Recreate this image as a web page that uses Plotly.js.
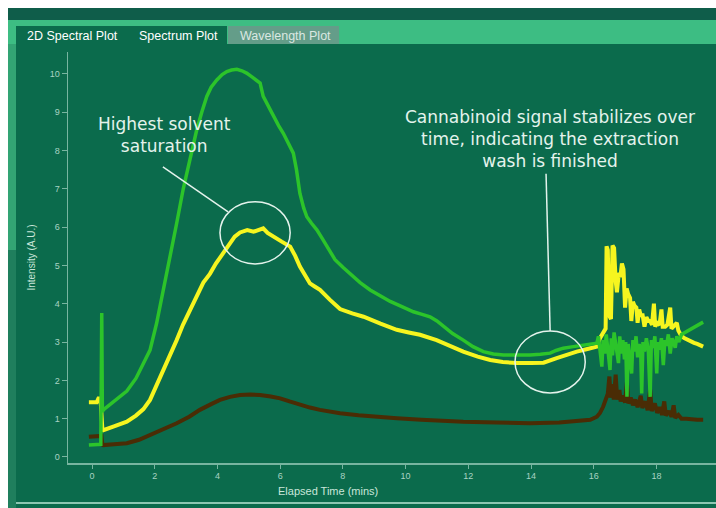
<!DOCTYPE html>
<html>
<head>
<meta charset="utf-8">
<script src="https://cdn.plot.ly/plotly-3.0.1.min.js"></script>
<style>
html,body{margin:0;padding:0;background:#ffffff;}
#chart{width:716px;height:508px;}
</style>
</head>
<body>
<div id="chart"></div>
<script>
// ---- Data (elapsed time in minutes, intensity in A.U.) ----
const greenTime = [-0.10,0.28,0.31,0.33,0.36,0.70,1.11,1.40,1.64,1.85,2.06,2.28,2.49,2.70,2.91,3.13,3.34,3.50,3.66,3.80,3.98,4.15,4.30,4.45,4.62,4.78,4.93,5.10,5.25,5.36,5.46,5.62,5.78,5.95,6.10,6.25,6.42,6.52,6.63,6.75,6.85,7.00,7.17,7.33,7.49,7.75,8.00,8.23,8.55,8.87,9.20,9.51,9.90,10.25,10.50,10.78,11.00,11.21,11.50,11.84,12.15,12.48,12.80,13.12,13.50,13.97,14.30,14.61,14.80,15.03,15.35,15.67,15.90,16.10,
  16.15,16.20,16.26,16.30,16.35,16.40,16.45,16.52,16.56,16.60,16.65,16.70,16.75,16.79,16.83,16.88,16.93,16.98,17.02,17.06,17.10,17.15,17.21,17.25,17.30,17.35,17.40,17.45,17.50,17.53,17.57,17.62,17.68,17.74,17.80,17.84,17.90,17.95,18.01,18.05,18.10,18.16,18.22,18.27,18.32,18.38,18.44,18.50,18.56,18.60,18.65,18.72,18.80,18.90,19.00,19.10,19.20,19.30,19.40,19.49];
const greenValue = [0.31,0.33,3.76,1.18,1.23,1.45,1.72,2.05,2.45,2.79,3.49,4.36,5.20,6.10,7.00,7.78,8.54,9.00,9.41,9.65,9.84,9.98,10.06,10.10,10.12,10.08,10.02,9.92,9.84,9.76,9.41,9.15,8.89,8.65,8.45,8.20,7.93,7.50,6.88,6.50,6.27,6.10,5.93,5.72,5.49,5.15,4.95,4.78,4.55,4.36,4.20,4.06,3.92,3.79,3.73,3.66,3.55,3.40,3.22,3.05,2.88,2.75,2.69,2.66,2.65,2.66,2.68,2.71,2.78,2.84,2.88,2.92,2.95,2.97,
  3.15,2.75,2.36,3.05,2.70,3.20,2.80,2.27,3.10,2.65,3.25,2.90,2.60,2.45,3.15,2.70,3.05,2.55,3.00,1.57,2.95,2.65,2.18,3.05,2.75,3.15,2.60,2.95,2.70,1.66,3.00,2.75,3.10,2.80,1.57,3.05,2.85,3.15,2.18,3.00,2.80,3.10,2.40,3.05,2.90,3.20,2.70,3.10,2.95,2.85,3.15,3.00,3.20,3.25,3.30,3.35,3.40,3.45,3.48,3.52];

const yellowTime = [-0.10,0.15,0.22,0.28,0.33,0.36,0.70,1.11,1.40,1.64,1.85,2.05,2.25,2.49,2.70,2.90,3.13,3.35,3.55,3.76,3.95,4.15,4.40,4.55,4.72,4.95,5.15,5.30,5.46,5.60,5.78,6.05,6.32,6.48,6.63,6.80,6.95,7.10,7.27,7.59,7.91,8.30,8.66,9.20,9.72,10.10,10.46,10.99,11.40,11.84,12.30,12.70,13.10,13.55,14.00,14.40,14.82,15.15,15.46,15.80,16.10,
  16.20,16.30,16.38,16.41,16.45,16.49,16.55,16.60,16.65,16.70,16.74,16.80,16.85,16.90,16.95,17.00,17.05,17.10,17.16,17.20,17.25,17.30,17.36,17.40,17.45,17.50,17.56,17.62,17.68,17.74,17.80,17.86,17.92,17.96,18.02,18.10,18.16,18.20,18.28,18.35,18.44,18.48,18.55,18.65,18.70,18.80,18.90,19.00,19.10,19.20,19.30,19.40,19.49];
const yellowValue = [1.43,1.43,1.56,1.40,0.72,0.70,0.80,0.92,1.08,1.25,1.49,1.85,2.25,2.66,3.05,3.45,3.86,4.25,4.55,4.78,5.05,5.28,5.56,5.75,5.86,5.92,5.88,5.92,5.97,5.85,5.75,5.62,5.49,5.25,4.97,4.72,4.53,4.45,4.36,4.10,3.86,3.75,3.66,3.48,3.32,3.25,3.19,3.05,2.90,2.75,2.62,2.53,2.48,2.45,2.45,2.46,2.58,2.68,2.75,2.82,2.88,
  3.10,3.25,3.35,5.50,5.40,3.70,3.60,5.52,5.45,4.60,4.30,4.80,4.70,5.05,4.90,3.90,4.40,4.25,4.15,3.55,4.05,3.95,3.90,3.50,3.85,3.70,3.70,3.40,3.65,3.55,3.55,3.45,4.00,3.40,3.50,3.45,3.85,3.40,3.40,3.45,3.90,3.35,3.40,3.50,3.30,3.15,3.10,3.05,3.00,2.98,2.95,2.90,2.88];

const brownTime = [-0.10,0.30,0.33,0.36,0.70,1.11,1.50,1.85,2.30,2.70,3.10,3.44,3.80,4.08,4.40,4.72,5.05,5.36,5.70,6.00,6.30,6.63,6.95,7.27,7.59,7.91,8.50,9.10,9.72,10.50,11.20,11.84,12.90,13.97,14.90,15.50,15.89,16.10,
  16.20,16.30,16.40,16.45,16.50,16.54,16.60,16.64,16.70,16.75,16.82,16.86,16.92,17.00,17.06,17.10,17.18,17.25,17.32,17.40,17.50,17.55,17.65,17.72,17.80,17.85,17.95,18.02,18.10,18.18,18.25,18.30,18.40,18.48,18.55,18.60,18.70,18.80,18.95,19.10,19.30,19.49];
const brownValue = [0.53,0.55,0.32,0.31,0.33,0.36,0.45,0.57,0.72,0.88,1.05,1.23,1.38,1.49,1.57,1.62,1.63,1.62,1.58,1.53,1.45,1.36,1.29,1.23,1.18,1.14,1.09,1.04,1.01,0.97,0.94,0.92,0.90,0.88,0.90,0.93,0.97,1.05,
  1.15,1.31,1.50,1.65,2.10,1.55,1.90,1.50,2.15,1.50,1.75,1.45,1.60,1.42,1.95,1.40,1.55,1.35,1.50,1.30,1.60,1.28,1.45,1.22,1.75,1.20,1.40,1.15,1.30,1.10,1.45,1.08,1.20,1.05,1.35,1.02,1.10,1.00,1.00,0.98,0.97,0.97];

const xTickVals = [0,2,4,6,8,10,12,14,16,18,20];
const yTickVals = [0,1,2,3,4,5,6,7,8,9,10];
const tabLabels = ["2D Spectral Plot","Spectrum Plot","Wavelength Plot"];
const noteLeft = "Highest solvent<br>saturation";
const noteRight = "Cannabinoid signal stabilizes over<br>time, indicating the extraction<br>wash is finished";
const xTitle = "Elapsed Time (mins)";
const yTitle = "Intensity (A.U.)";

// ---- Layout helpers (pixel -> paper) ----
const W = 716, H = 508, L = 68, R = 716, T = 52, B = 463;
const px = x => (x - L) / (R - L);
const py = y => (B - y) / (B - T);
function rect(x0,y0,x1,y1,color){
  return {type:'rect', xref:'paper', yref:'paper', x0:px(x0), x1:px(x1), y0:py(y1), y1:py(y0),
          fillcolor:color, line:{width:0}, layer:'below'};
}

const bg = '#0b6b4c';
const axisCol = '#78b5a0';
const tickFont = {family:'Liberation Sans, Arial, sans-serif', size:9, color:'#a9d3c3'};
const noteFont = {family:'DejaVu Sans, Verdana, sans-serif', size:17, color:'#e4f3ec'};

const traces = [
  {x:brownTime, y:brownValue, mode:'lines', line:{color:'#4a2c05', width:4}, hoverinfo:'skip'},
  {x:yellowTime, y:yellowValue, mode:'lines', line:{color:'#f6f51f', width:4}, hoverinfo:'skip'},
  {x:greenTime, y:greenValue, mode:'lines', line:{color:'#2cc42a', width:3.5}, hoverinfo:'skip'}
];

const shapes = [
  rect(0,0,716,8,'#ffffff'),
  rect(0,0,8,508,'#ffffff'),
  rect(8,8,716,20,'#0f5d4a'),
  rect(8,20,716,44,'#3dbd83'),
  rect(8,44,16,250,'#33a474'),
  rect(8,250,16,508,'#1f7f5d'),
  rect(16,26,227,44,bg),
  rect(228,26,339,44,'#649d89'),
  rect(16,502,716,504,'#8cc7b2'),
  // annotation callouts (data coordinates)
  {type:'line', xref:'x', yref:'y', x0:2.26, y0:7.57, x1:4.34, y1:6.40, line:{color:'#e4f3ec', width:1.5}},
  {type:'circle', xref:'x', yref:'y', x0:4.08, x1:6.32, y0:5.04, y1:6.66, line:{color:'#e4f3ec', width:1.5}},
  {type:'line', xref:'x', yref:'y', x0:14.48, y0:7.39, x1:14.61, y1:3.29, line:{color:'#e4f3ec', width:1.5}},
  {type:'circle', xref:'x', yref:'y', x0:13.49, x1:15.73, y0:1.67, y1:3.29, line:{color:'#e4f3ec', width:1.5}}
];

const tabFont = {family:'Liberation Sans, Arial, sans-serif', size:12.5, color:'#ffffff'};
const annotations = [
  {xref:'paper', yref:'paper', x:px(72), y:py(36), text:tabLabels[0], showarrow:false, xanchor:'center', yanchor:'middle', font:tabFont},
  {xref:'paper', yref:'paper', x:px(178), y:py(36), text:tabLabels[1], showarrow:false, xanchor:'center', yanchor:'middle', font:tabFont},
  {xref:'paper', yref:'paper', x:px(285), y:py(36), text:tabLabels[2], showarrow:false, xanchor:'center', yanchor:'middle', font:Object.assign({}, tabFont, {color:'#dbe8e2'})},
  {xref:'paper', yref:'paper', x:px(164), y:py(135), text:noteLeft, showarrow:false, xanchor:'center', yanchor:'middle', align:'center', font:noteFont},
  {xref:'paper', yref:'paper', x:px(550), y:py(139), text:noteRight, showarrow:false, xanchor:'center', yanchor:'middle', align:'center', font:noteFont},
  {xref:'paper', yref:'paper', x:px(328), y:py(491), text:xTitle, showarrow:false, xanchor:'center', yanchor:'middle', font:{family:'Liberation Sans, Arial, sans-serif', size:11, color:'#c9e6da'}}
];

const layout = {
  width:W, height:H,
  margin:{l:L, r:W-R, t:T, b:H-B, pad:0},
  paper_bgcolor:bg, plot_bgcolor:bg,
  showlegend:false,
  xaxis:{range:[-0.766, 19.9], tickvals:xTickVals, ticks:'outside', ticklen:4, tickcolor:axisCol,
         showline:true, linecolor:axisCol, linewidth:1.5, showgrid:false, zeroline:false,
         tickfont:tickFont, fixedrange:true},
  yaxis:{range:[-0.157, 10.57], tickvals:yTickVals, ticks:'outside', ticklen:5, tickcolor:axisCol,
         showline:true, linecolor:axisCol, linewidth:1.5, showgrid:false, zeroline:false,
         tickfont:tickFont, fixedrange:true,
         title:{text:yTitle, font:{family:'Liberation Sans, Arial, sans-serif', size:10, color:'#c9e6da'}, standoff:12}},
  shapes:shapes,
  annotations:annotations
};

Plotly.newPlot('chart', traces, layout, {displayModeBar:false, staticPlot:true});
</script>
</body>
</html>
